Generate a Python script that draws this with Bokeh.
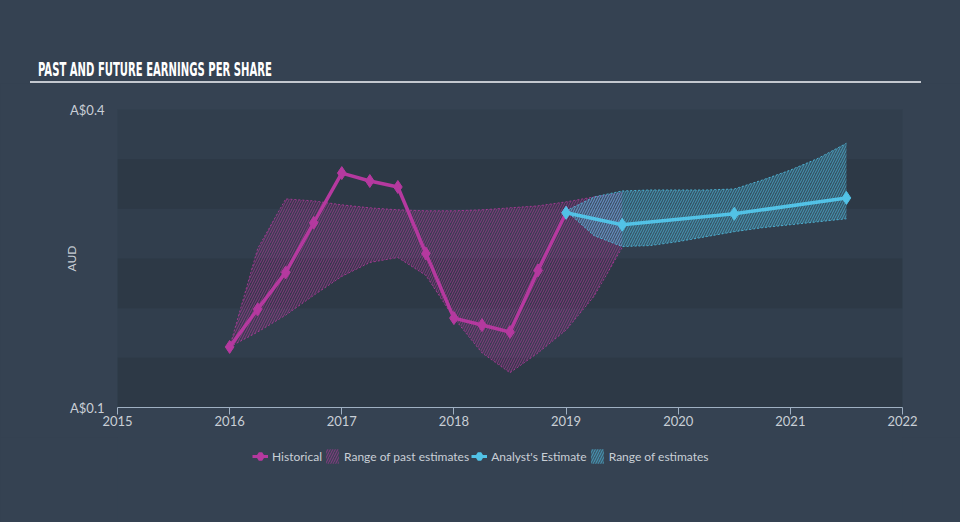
from bokeh.plotting import figure
from bokeh.models import Range1d, FixedTicker, Legend, LegendItem, ColumnDataSource, Div
from bokeh.layouts import column
from bokeh.embed import file_html
from bokeh.resources import INLINE

# ---- data ----
hist_x = [2016.0, 2016.25, 2016.5, 2016.75, 2017.0, 2017.25, 2017.5, 2017.75,
          2018.0, 2018.25, 2018.5, 2018.75, 2019.0]
hist_eps = [0.161, 0.199, 0.236, 0.286, 0.336, 0.328, 0.322, 0.255,
            0.190, 0.183, 0.176, 0.238, 0.296]

est_x = [2019.0, 2019.5, 2020.5, 2021.5]
est_eps = [0.296, 0.284, 0.295, 0.311]

past_rng_x = [2016.0, 2016.25, 2016.5, 2016.75, 2017.0, 2017.25, 2017.5, 2017.75,
              2018.0, 2018.25, 2018.5, 2018.75, 2019.0, 2019.25, 2019.5]
past_low = [0.161, 0.176, 0.193, 0.213, 0.232, 0.246, 0.251, 0.233,
            0.190, 0.155, 0.135, 0.155, 0.178, 0.212, 0.261]
past_high = [0.161, 0.260, 0.310, 0.308, 0.304, 0.301, 0.299, 0.298,
             0.298, 0.299, 0.301, 0.303, 0.307, 0.312, 0.316]

est_rng_x = [2019.0, 2019.25, 2019.5, 2019.75, 2020.0, 2020.25, 2020.5,
             2020.75, 2021.0, 2021.25, 2021.5]
est_low = [0.298, 0.273, 0.262, 0.263, 0.267, 0.272, 0.277, 0.281, 0.284, 0.287, 0.290]
est_high = [0.298, 0.312, 0.318, 0.319, 0.319, 0.319, 0.320, 0.329, 0.339, 0.351, 0.366]

x_ticks = [2015, 2016, 2017, 2018, 2019, 2020, 2021, 2022]
y_ticks = [0.1, 0.4]
y_tick_labels = ["A$0.1", "A$0.4"]
# band boundaries (first repeated so that the darker bands fall on 0.10-0.15, 0.20-0.25, 0.30-0.35)
band_ticks = [0.1, 0.1, 0.15, 0.2, 0.25, 0.3, 0.35, 0.4]

title_text = "PAST AND FUTURE EARNINGS PER SHARE"
y_label = "AUD"
legend_labels = ["Historical", "Range of past estimates", "Analyst's Estimate", "Range of estimates"]

# ---- styling ----
BG = "#354252"
FRAME = "#313e4d"
BAND = "#2d3946"
PURPLE = "#b5399f"
BLUE = "#52c2e6"
TXT = "#c9cfd6"
FONT = "Lato"
TOP = 83      # title block height
MAIN_H = 354  # main figure height (ends at y=437)
LEG_H = 522 - TOP - MAIN_H

title = Div(
    text=('<div style="margin-left:30px;width:891px;height:%dpx;box-sizing:border-box;'
          'border-bottom:2px solid #c3c8cf;padding-left:8px;padding-top:59px;white-space:nowrap;">'
          '<span style="display:inline-block;transform:scaleX(0.56);transform-origin:0 0;'
          'font-family:\'DejaVu Sans Condensed\',sans-serif;font-weight:bold;font-size:20px;'
          'line-height:20px;color:#ffffff;">%s</span></div>') % (TOP, title_text),
    width=960, height=TOP, margin=(0, 0, 0, 0),
    styles={"background-color": BG})

p = figure(width=960, height=MAIN_H, output_backend="svg", toolbar_location=None,
           x_range=Range1d(2015, 2022), y_range=Range1d(0.1, 0.4),
           min_border_left=117, min_border_right=58, min_border_top=109 - TOP,
           min_border_bottom=MAIN_H - (109 - TOP) - 298, margin=(0, 0, 0, 0))
p.background_fill_color = FRAME
p.border_fill_color = BG
p.outline_line_color = None

# grid bands
p.xgrid.visible = False
p.ygrid.ticker = FixedTicker(ticks=band_ticks)
p.ygrid.grid_line_color = None
p.ygrid.band_fill_color = BAND
p.ygrid.band_fill_alpha = 1.0

# axes
xa = p.xaxis[0]
xa.ticker = FixedTicker(ticks=x_ticks)
xa.axis_line_color = "#9fb0c2"
xa.major_tick_line_color = "#9fb0c2"
xa.major_tick_out = 7
xa.major_tick_in = 0
xa.minor_tick_line_color = None
xa.major_label_standoff = 1
xa.major_label_text_color = TXT
xa.major_label_text_font = FONT
xa.major_label_text_font_size = "13px"

ya = p.yaxis[0]
ya.ticker = FixedTicker(ticks=y_ticks)
ya.major_label_overrides = {t: s for t, s in zip(y_ticks, y_tick_labels)}
ya.axis_line_color = None
ya.major_tick_line_color = None
ya.minor_tick_line_color = None
ya.major_tick_out = 0
ya.major_label_standoff = 13
ya.major_label_text_color = TXT
ya.major_label_text_font = FONT
ya.major_label_text_font_size = "13px"
ya.axis_label = y_label
ya.axis_label_text_color = TXT
ya.axis_label_text_font = FONT
ya.axis_label_text_font_size = "12px"
ya.axis_label_text_font_style = "normal"
ya.axis_label_standoff = -12

# ranges (hatched)
past_src = ColumnDataSource(dict(x=past_rng_x, lo=past_low, hi=past_high))
est_src = ColumnDataSource(dict(x=est_rng_x, lo=est_low, hi=est_high))
hist_src = ColumnDataSource(dict(x=hist_x, y=hist_eps))
fut_src = ColumnDataSource(dict(x=est_x, y=est_eps))

past_style = dict(fill_color=PURPLE, fill_alpha=0.08, hatch_pattern="/", hatch_color=PURPLE,
                  hatch_alpha=0.6, hatch_scale=5, hatch_weight=1)
est_style = dict(fill_color=BLUE, fill_alpha=0.2, hatch_pattern="/", hatch_color=BLUE,
                 hatch_alpha=0.6, hatch_scale=5, hatch_weight=1)
edge = dict(line_width=1, line_dash="2 2", line_alpha=0.8)
line_style = dict(line_width=3.5)

p.varea(x="x", y1="lo", y2="hi", source=past_src, **past_style)
p.line(x="x", y="lo", source=past_src, line_color=PURPLE, **edge)
p.line(x="x", y="hi", source=past_src, line_color=PURPLE, **edge)

p.varea(x="x", y1="lo", y2="hi", source=est_src, **est_style)
p.line(x="x", y="lo", source=est_src, line_color=BLUE, **edge)
p.line(x="x", y="hi", source=est_src, line_color=BLUE, **edge)

p.line(x="x", y="y", source=hist_src, line_color=PURPLE, **line_style)
p.scatter(x="x", y="y", source=hist_src, marker="diamond", size=13, fill_color=PURPLE, line_color=PURPLE)
p.line(x="x", y="y", source=fut_src, line_color=BLUE, **line_style)
p.scatter(x="x", y="y", source=fut_src, marker="diamond", size=13, fill_color=BLUE, line_color=BLUE)

# ---- legend strip (a second figure holding only the legend; its data lies outside its view) ----
q = figure(width=960, height=LEG_H, output_backend="svg", toolbar_location=None,
           x_range=Range1d(0, 1), y_range=Range1d(0, 1),
           x_axis_location=None, y_axis_location=None,
           min_border=0, margin=(0, 0, 0, 0))
q.background_fill_color = BG
q.border_fill_color = BG
q.outline_line_color = None
q.grid.visible = False

gl1 = q.line(x="x", y="y", source=hist_src, line_color=PURPLE, line_width=3)
gm1 = q.scatter(x="x", y="y", source=hist_src, marker="diamond", size=11, fill_color=PURPLE,
                line_color=PURPLE, line_width=4)
ga1 = q.varea(x="x", y1="lo", y2="hi", source=past_src, **past_style)
gl2 = q.line(x="x", y="y", source=fut_src, line_color=BLUE, line_width=3)
gm2 = q.scatter(x="x", y="y", source=fut_src, marker="diamond", size=11, fill_color=BLUE,
                line_color=BLUE, line_width=4)
ga2 = q.varea(x="x", y1="lo", y2="hi", source=est_src, **est_style)

legend = Legend(items=[
    LegendItem(label=legend_labels[0], renderers=[gl1, gm1]),
    LegendItem(label=legend_labels[1], renderers=[ga1]),
    LegendItem(label=legend_labels[2], renderers=[gl2, gm2]),
    LegendItem(label=legend_labels[3], renderers=[ga2]),
], orientation="horizontal", location=(135, LEG_H - 28), padding=0, margin=0, spacing=2,
    glyph_width=16, glyph_height=18, label_standoff=4, label_height=14,
    label_text_color=TXT, label_text_font=FONT, label_text_font_size="12px",
    background_fill_alpha=0, border_line_color=None)
q.add_layout(legend)

layout = column(title, p, q, spacing=0, margin=(0, 0, 0, 0), styles={"background-color": BG})
open("out.html", "w").write(file_html(layout, INLINE))
